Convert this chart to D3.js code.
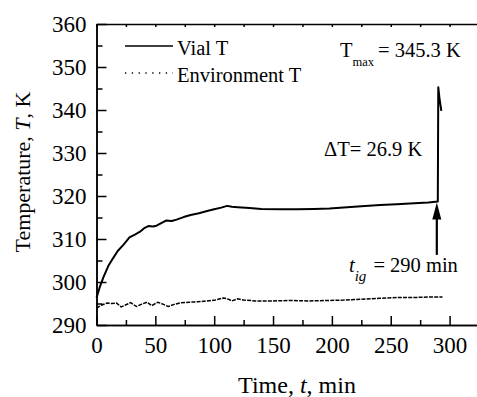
<!DOCTYPE html>
<html lang="en">
<head>
<meta charset="UTF-8">
<title>Vial temperature</title>
<script src="https://d3js.org/d3.v7.min.js"></script>
<style>
  body { margin: 0; background: #fff; }
</style>
</head>
<body>
<div class="chart"></div>
<script>
// data
const vialTime = [0, 3, 6, 10, 14, 18, 23, 28, 33, 37, 41, 44, 48, 51, 55, 59, 64, 68, 74, 80, 87, 94, 100, 106, 111, 115, 120, 130, 140, 156, 170, 185, 198, 210, 225, 241, 255, 270, 282, 290, 290.4, 291.5, 293];
const vialTemp = [296.3, 299, 301.2, 303.7, 305.5, 307.2, 308.7, 310.4, 311.1, 311.7, 312.6, 313.0, 312.9, 313.1, 313.7, 314.3, 314.2, 314.5, 315.1, 315.6, 316.0, 316.5, 316.9, 317.3, 317.7, 317.5, 317.4, 317.2, 317.0, 316.9, 316.9, 317.0, 317.1, 317.3, 317.6, 317.9, 318.1, 318.3, 318.5, 318.7, 345.3, 342.5, 339.8];
const envTime = [0, 4, 9, 13, 17, 21, 25, 29, 34, 38, 43, 47, 52, 56, 61, 66, 72, 79, 86, 94, 101, 108, 112, 115, 120, 125, 135, 150, 165, 180, 195, 210, 225, 240, 255, 270, 283, 294];
const envTemp = [293.9, 294.6, 295.1, 295.0, 295.1, 294.2, 294.7, 295.2, 294.3, 294.8, 295.3, 294.5, 295.3, 294.9, 294.3, 294.8, 295.2, 295.3, 295.4, 295.6, 295.8, 296.3, 296.0, 295.6, 296.1, 295.8, 295.6, 295.6, 295.7, 295.6, 295.7, 295.8, 296.0, 296.2, 296.4, 296.4, 296.5, 296.5];
const xTicks = [0, 50, 100, 150, 200, 250, 300];
const yTicks = [290, 300, 310, 320, 330, 340, 350, 360];
const seriesNames = ["Vial T", "Environment T"];
const tIgnition = 290;
const tMax = 345.3;
const deltaT = 26.9;

const FONT = "'Liberation Serif', 'Times New Roman', Times, 'DejaVu Serif', serif";
const w = 477, h = 397;
const svg = d3.select(".chart").append("svg").attr("width", w).attr("height", h)
  .attr("font-family", FONT);

const x = d3.scaleLinear().domain([0, 325]).range([96.5, 479]);
const y = d3.scaleLinear().domain([290, 360]).range([325, 24]);

// axes
const axBottom = svg.append("g").attr("transform", `translate(0,${y(290)})`)
  .call(d3.axisBottom(x).tickValues(xTicks).tickSizeInner(-9).tickSizeOuter(0).tickPadding(12));
const axBottomMinor = svg.append("g").attr("transform", `translate(0,${y(290)})`)
  .call(d3.axisBottom(x).tickValues([25, 75, 125, 175, 225, 275]).tickSizeInner(-5).tickSizeOuter(0).tickFormat(""));
const axTop = svg.append("g").attr("transform", `translate(0,${y(360)})`)
  .call(d3.axisTop(x).tickValues(d3.range(0, 326, 25)).tickSizeInner(-3).tickSizeOuter(0).tickFormat(""));
const axLeft = svg.append("g").attr("transform", `translate(${x(0)},0)`)
  .call(d3.axisLeft(y).tickValues(yTicks).tickSizeInner(-10).tickSizeOuter(0).tickPadding(10));
const axLeftMinor = svg.append("g").attr("transform", `translate(${x(0)},0)`)
  .call(d3.axisLeft(y).tickValues([295, 305, 315, 325, 335, 345, 355]).tickSizeInner(-6).tickSizeOuter(0).tickFormat(""));

svg.selectAll("g").attr("font-family", FONT).attr("font-size", 23);
svg.selectAll(".domain").attr("stroke", "#000").attr("stroke-width", 1.5);
svg.selectAll(".tick line").attr("stroke", "#000").attr("stroke-width", 1.5);
axLeft.selectAll(".tick text").attr("dy", "0.33em");

// lines
const vial = vialTime.map((t, i) => [t, vialTemp[i]]);
const env = envTime.map((t, i) => [t, envTemp[i]]);
const line = d3.line().x(d => x(d[0])).y(d => y(d[1]));

svg.append("path").datum(env).attr("d", line)
  .attr("fill", "none").attr("stroke", "#000").attr("stroke-width", 1.5)
  .attr("stroke-dasharray", "4,1.2");
svg.append("path").datum(vial).attr("d", line)
  .attr("fill", "none").attr("stroke", "#000").attr("stroke-width", 2)
  .attr("stroke-linejoin", "round");

// arrow at ignition
const ax = x(tIgnition) - 1;
const tipY = y(318.7) + 1;
svg.append("line").attr("x1", ax).attr("x2", ax).attr("y1", tipY + 14).attr("y2", y(306.3))
  .attr("stroke", "#000").attr("stroke-width", 2.2);
svg.append("path")
  .attr("d", `M${ax},${tipY} L${ax - 4.5},${tipY + 17} L${ax + 4.5},${tipY + 17} Z`)
  .attr("fill", "#000");

function label(xp, yp, size) {
  return svg.append("text").attr("x", xp).attr("y", yp)
    .attr("font-family", FONT).attr("font-size", size).attr("fill", "#000");
}

// legend
svg.append("line").attr("x1", 125).attr("x2", 173).attr("y1", 46).attr("y2", 46)
  .attr("stroke", "#000").attr("stroke-width", 1.4);
svg.append("line").attr("x1", 125).attr("x2", 173).attr("y1", 73).attr("y2", 73)
  .attr("stroke", "#000").attr("stroke-width", 1.3).attr("stroke-dasharray", "1.3,5.5");
label(177, 55, 20.5).text(seriesNames[0]);
label(177, 82, 20.5).text(seriesNames[1]);

// annotations
const t1 = label(340, 57, 20.5);
t1.append("tspan").text("T");
t1.append("tspan").attr("dy", 9).attr("font-size", 12.5).text("max");
t1.append("tspan").attr("dy", -9).attr("dx", 4).text("= " + tMax + " K");

label(324, 156, 20.5).text("\u0394T= " + deltaT + " K");

const t2 = label(349, 272, 20.5);
t2.append("tspan").attr("font-style", "italic").text("t");
t2.append("tspan").attr("dy", 9).attr("font-size", 15).attr("font-style", "italic").text("ig");
t2.append("tspan").attr("dy", -9).attr("dx", 7).text("= " + tIgnition + " min");

// axis titles
const xt = label(297, 393, 24).attr("text-anchor", "middle");
xt.append("tspan").text("Time, ");
xt.append("tspan").attr("font-style", "italic").text("t");
xt.append("tspan").text(", min");

const yt = label(0, 0, 22).attr("transform", "translate(30,172) rotate(-90)").attr("text-anchor", "middle");
yt.append("tspan").text("Temperature, ");
yt.append("tspan").attr("font-style", "italic").text("T");
yt.append("tspan").text(", K");
</script>
</body>
</html>
